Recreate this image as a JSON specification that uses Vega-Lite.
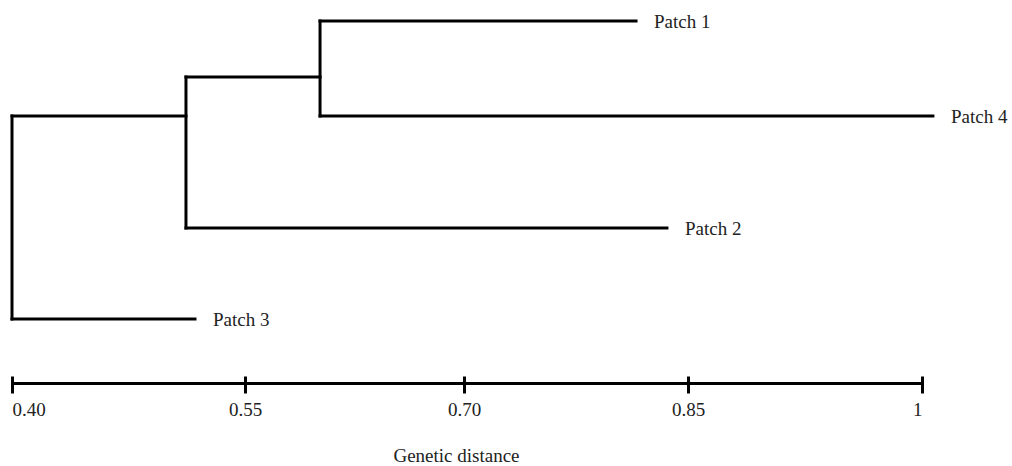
{
  "$schema": "https://vega.github.io/schema/vega-lite/v6.json",
  "autosize": {"type": "none"},
  "width": 910,
  "height": 376,
  "padding": {"left": 12, "top": 0, "right": 90, "bottom": 90},
  "background": "white",
  "config": {"view": {"stroke": null}},
  "datasets": {
    "segments": [
      {"x": 0.4, "x2": 0.4, "y": 1.16, "y2": 3.19},
      {"x": 0.4, "x2": 0.5178, "y": 3.19, "y2": 3.19},
      {"x": 0.4, "x2": 0.512, "y": 1.16, "y2": 1.16},
      {"x": 0.512, "x2": 0.512, "y": 0.77, "y2": 2.28},
      {"x": 0.512, "x2": 0.8359, "y": 2.28, "y2": 2.28},
      {"x": 0.512, "x2": 0.6014, "y": 0.77, "y2": 0.77},
      {"x": 0.6014, "x2": 0.6014, "y": 0.21, "y2": 1.16},
      {"x": 0.6014, "x2": 0.8152, "y": 0.21, "y2": 0.21},
      {"x": 0.6014, "x2": 1.007, "y": 1.16, "y2": 1.16}
    ],
    "leaves": [
      {"patch": "Patch 1", "distance": 0.8152, "y": 0.21},
      {"patch": "Patch 4", "distance": 1.007, "y": 1.16},
      {"patch": "Patch 2", "distance": 0.8359, "y": 2.28},
      {"patch": "Patch 3", "distance": 0.5178, "y": 3.19}
    ]
  },
  "resolve": {"axis": {"x": "independent"}},
  "layer": [
    {
      "data": {"name": "segments"},
      "mark": {"type": "rule", "strokeWidth": 3, "color": "black", "strokeCap": "square", "clip": false},
      "encoding": {
        "x": {
          "field": "x", "type": "quantitative",
          "scale": {"domain": [0.4, 0.55, 0.7, 0.85, 1.0], "range": [0, 233, 452, 676, 910], "nice": false, "zero": false},
          "axis": {
            "orient": "bottom",
            "domain": false,
            "grid": false,
            "values": [0.4, 0.55, 0.7, 0.85, 1],
            "tickSize": 17,
            "tickWidth": 3,
            "tickColor": "black",
            "labelExpr": "datum.value == 1 ? '1' : format(datum.value, '.2f')",
            "labelFont": "Liberation Serif",
            "labelFontSize": 19,
            "labelColor": "#222",
            "labelBaseline": "alphabetic",
            "labelPadding": 22,
            "encode": {
              "labels": {
                "update": {
                  "align": {"signal": "datum.value == 0.4 ? 'left' : 'center'"},
                  "dx": {"signal": "datum.value == 0.4 ? 2 : (datum.value == 0.7 ? 0 : (datum.value == 0.85 ? -5 : -6))"}
                }
              }
            },
            "title": "Genetic distance",
            "titleFont": "Liberation Serif",
            "titleFontSize": 19,
            "titleFontWeight": "normal",
            "titleColor": "#222",
            "titleAlign": "center",
            "titleBaseline": "alphabetic",
            "titleX": 444,
            "titleY": 85
          }
        },
        "x2": {"field": "x2"},
        "y": {
          "field": "y", "type": "quantitative",
          "scale": {"domain": [0, 3.76], "reverse": true, "nice": false, "zero": false},
          "axis": null
        },
        "y2": {"field": "y2"}
      }
    },
    {
      "data": {"name": "leaves"},
      "mark": {"type": "text", "align": "left", "baseline": "middle", "dx": 18, "dy": 1, "font": "Liberation Serif", "fontSize": 19, "color": "#222", "clip": false},
      "encoding": {
        "x": {
          "field": "distance", "type": "quantitative",
          "axis": {
            "orient": "bottom",
            "domain": true,
            "domainWidth": 3,
            "domainColor": "black",
            "ticks": false,
            "labels": false,
            "grid": false,
            "title": null,
            "offset": 7
          }
        },
        "y": {"field": "y", "type": "quantitative"},
        "text": {"field": "patch"}
      }
    }
  ]
}
